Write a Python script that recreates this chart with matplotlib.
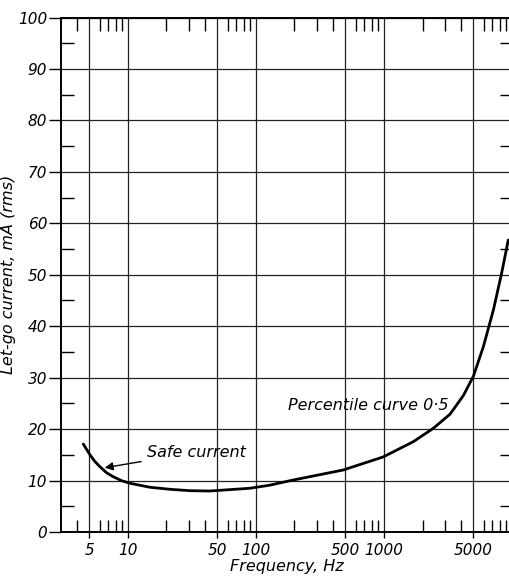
import matplotlib.pyplot as plt
from matplotlib.ticker import FixedLocator, NullFormatter

# Percentile curve 0.5
freq = [4.48, 5.05, 5.52, 6.04, 6.82, 7.67, 8.93, 10.4, 14.8, 21.3, 30.5, 43.7,
        89.5, 128, 195, 480, 988, 1694, 2427, 3280, 4165, 5000, 5970, 7147, 8299, 9350]
current = [17.1, 15.0, 13.7, 12.7, 11.5, 10.75, 9.97, 9.47, 8.7, 8.3, 8.03, 7.97,
           8.5, 9.1, 10.1, 12.05, 14.6, 17.55, 20.15, 22.9, 26.5, 30.3, 36.0, 43.1, 50.3, 56.75]

x_major = [5, 10, 50, 100, 500, 1000, 5000]
x_labels = ["5", "10", "50", "100", "500", "1000", "5000"]
x_minor = [4, 6, 7, 8, 9, 20, 30, 40, 60, 70, 80, 90, 200, 300, 400,
           600, 700, 800, 900, 2000, 3000, 4000, 6000, 7000, 8000, 9000]
y_major = list(range(0, 101, 10))
y_minor = list(range(5, 100, 10))

plt.rcParams['font.family'] = ['DejaVu Sans']
fig = plt.figure(figsize=(5.09, 5.82), dpi=100)
ax = fig.add_axes([61 / 509, 50 / 582, 451 / 509, 514.5 / 582])

ax.plot(freq, current, color="black", lw=2, solid_capstyle="round", solid_joinstyle="round")

ax.set_xscale("log")
ax.set_xlim(3, 10000)
ax.set_ylim(0, 100)

ax.xaxis.set_major_locator(FixedLocator(x_major))
ax.set_xticklabels(x_labels, fontstyle="italic", fontsize=11)
ax.xaxis.set_minor_locator(FixedLocator(x_minor))
ax.xaxis.set_minor_formatter(NullFormatter())
ax.yaxis.set_major_locator(FixedLocator(y_major))
ax.yaxis.set_minor_locator(FixedLocator(y_minor))
for lab in ax.get_yticklabels():
    lab.set_fontstyle("italic")
    lab.set_fontsize(11)

ax.grid(True, which="major", color="#222222", lw=0.9)
ax.tick_params(which="major", axis="x", direction="out", length=4, width=1, pad=4)
ax.tick_params(which="major", axis="y", direction="out", length=9, width=1, pad=1)
ax.tick_params(which="minor", direction="in", length=9, width=1,
               top=True, bottom=True, left=True, right=True)
for s in ax.spines.values():
    s.set_linewidth(1.4)

ax.set_xlabel("Frequency, Hz", fontstyle="italic", fontsize=11.5, labelpad=1)
ax.set_ylabel("Let-go current, mA (rms)", fontstyle="italic", fontsize=11.5)
ax.yaxis.set_label_coords(-0.1, 0.5)

ax.text(178, 24.5, "Percentile curve 0\u00b75", fontstyle="italic", fontsize=11.5, va="center")
ax.annotate("Safe current", xy=(6.27, 12.4), xytext=(14.0, 15.5),
            fontstyle="italic", fontsize=11.5, va="center",
            arrowprops=dict(arrowstyle="-|>", color="black", lw=1, mutation_scale=12))

fig.savefig("out.png", dpi=100)
